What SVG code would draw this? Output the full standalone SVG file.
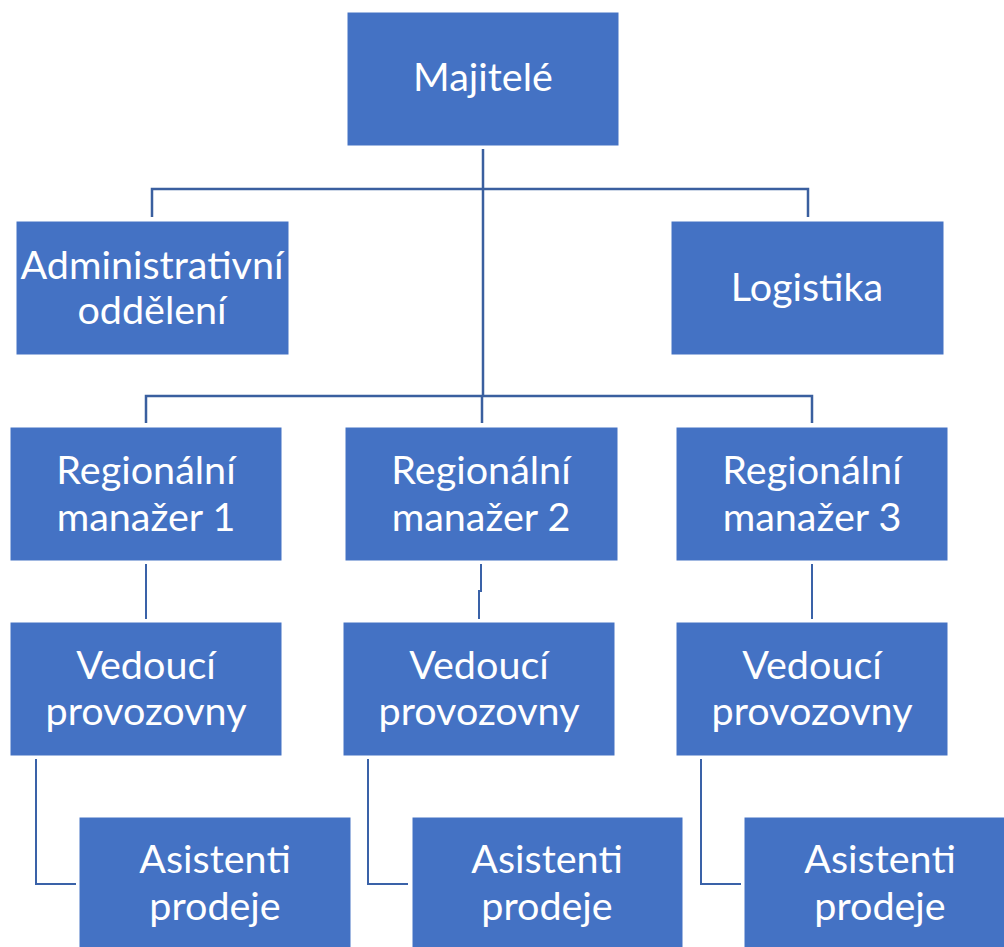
<svg xmlns="http://www.w3.org/2000/svg" width="1004" height="947" viewBox="0 0 1004 947">
<style>
.box{fill:#4472C4;stroke:#ffffff;stroke-width:1}
.t{fill:#ffffff;font-family:Lato,"Liberation Sans",sans-serif;font-size:39.5px;text-anchor:middle}
.c{fill:none;stroke:#3A5F9F;stroke-width:2.5}
.c2{fill:none;stroke:#3A62A8;stroke-width:2}
</style>
<rect width="1004" height="947" fill="#ffffff"/>
<g id="connectors">
<path class="c" d="M483 149 V396"/>
<path class="c" d="M152 217 V189 H808 V217"/>
<path class="c" d="M146 423 V396 H812 V423"/>
<path class="c" d="M482 396 V423"/>
<path class="c2" d="M146 564 V619"/>
<path class="c2" d="M481 564 V591 H479 V619"/>
<path class="c2" d="M812 564 V619"/>
<path class="c2" d="M36 759 V884 H76"/>
<path class="c2" d="M368 759 V884 H408"/>
<path class="c2" d="M701 759 V884 H741"/>
</g>
<g id="majitele"><rect class="box" x="347" y="12" width="272" height="134"/><text class="t" x="483" y="91">Majitelé</text></g>
<g id="admin"><rect class="box" x="16" y="221" width="273" height="134"/><text class="t" x="152" y="279">Administrativní</text><text class="t" x="152" y="324">oddělení</text></g>
<g id="logistika"><rect class="box" x="671" y="221" width="273" height="134"/><text class="t" x="807" y="301">Logistika</text></g>
<g id="rm1"><rect class="box" x="10" y="427" width="272" height="134"/><text class="t" x="146" y="484">Regionální</text><text class="t" x="146" y="531">manažer 1</text></g>
<g id="rm2"><rect class="box" x="345" y="427" width="273" height="134"/><text class="t" x="481" y="484">Regionální</text><text class="t" x="481" y="531">manažer 2</text></g>
<g id="rm3"><rect class="box" x="676" y="427" width="272" height="134"/><text class="t" x="812" y="484">Regionální</text><text class="t" x="812" y="531">manažer 3</text></g>
<g id="v1"><rect class="box" x="10" y="622" width="272" height="134"/><text class="t" x="146" y="679">Vedoucí</text><text class="t" x="146" y="725">provozovny</text></g>
<g id="v2"><rect class="box" x="343" y="622" width="272" height="134"/><text class="t" x="479" y="679">Vedoucí</text><text class="t" x="479" y="725">provozovny</text></g>
<g id="v3"><rect class="box" x="676" y="622" width="272" height="134"/><text class="t" x="812" y="679">Vedoucí</text><text class="t" x="812" y="725">provozovny</text></g>
<g id="a1"><rect class="box" x="79" y="817" width="272" height="140"/><text class="t" x="215" y="873">Asistenti</text><text class="t" x="215" y="920">prodeje</text></g>
<g id="a2"><rect class="box" x="412" y="817" width="271" height="140"/><text class="t" x="547" y="873">Asistenti</text><text class="t" x="547" y="920">prodeje</text></g>
<g id="a3"><rect class="box" x="744" y="817" width="272" height="140"/><text class="t" x="880" y="873">Asistenti</text><text class="t" x="880" y="920">prodeje</text></g>
</svg>
